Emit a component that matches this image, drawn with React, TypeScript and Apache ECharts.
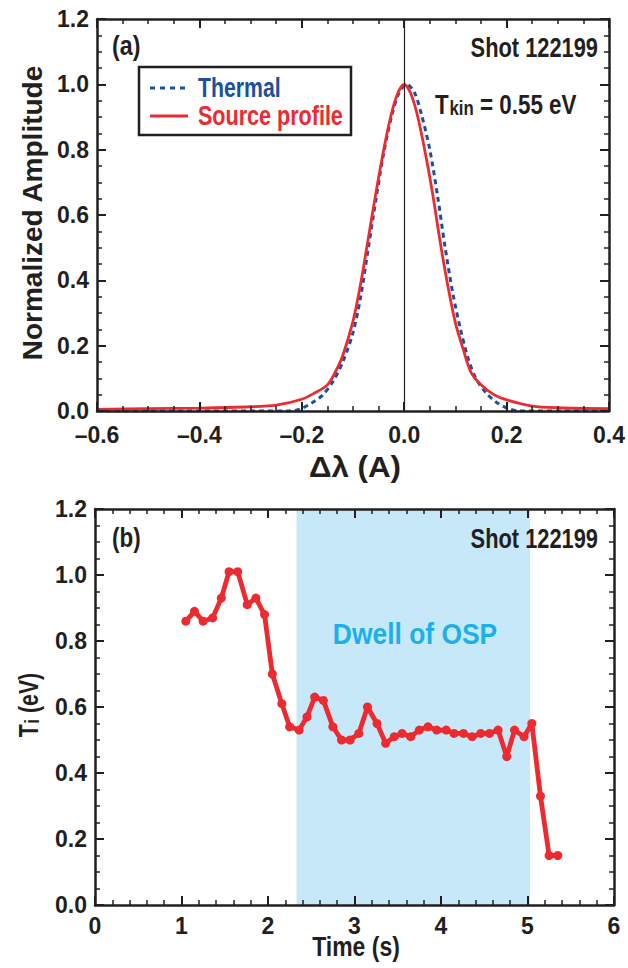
import React, { useEffect, useRef } from "react";
import * as echarts from "echarts";

const FONT = '"Liberation Sans", Arial, Helvetica, sans-serif';
const INK = "#231f20";
const RED = "#ec2a2f";
const BLUE = "#1b4f9f";
const CYAN = "#1cb0ea";
const SHADE = "#c6e8f8";

// Panel (a): line profiles
const thermalX = [-0.6, -0.4, -0.22, -0.2, -0.18, -0.16, -0.14, -0.12, -0.1, -0.085, -0.07, -0.055, -0.04, -0.025, -0.01, 0.005, 0.02, 0.035, 0.05, 0.065, 0.08, 0.095, 0.11, 0.125, 0.14, 0.16, 0.18, 0.2, 0.225, 0.3, 0.4];
const thermalY = [0, 0, 0, 0.008, 0.025, 0.048, 0.088, 0.15, 0.24, 0.35, 0.5, 0.65, 0.79, 0.9, 0.975, 1.0, 0.975, 0.9, 0.8, 0.66, 0.5, 0.36, 0.25, 0.16, 0.1, 0.055, 0.027, 0.01, 0, 0, 0];
const sourceX = [-0.6, -0.5, -0.4, -0.3, -0.25, -0.2, -0.175, -0.15, -0.135, -0.12, -0.1, -0.085, -0.07, -0.055, -0.04, -0.025, -0.012, 0.0, 0.012, 0.025, 0.04, 0.055, 0.07, 0.085, 0.1, 0.115, 0.13, 0.15, 0.175, 0.2, 0.25, 0.3, 0.4];
const sourceY = [0.005, 0.007, 0.009, 0.013, 0.018, 0.036, 0.055, 0.08, 0.118, 0.17, 0.275, 0.39, 0.53, 0.67, 0.8, 0.91, 0.975, 1.0, 0.975, 0.91, 0.8, 0.67, 0.52, 0.385, 0.27, 0.19, 0.12, 0.08, 0.05, 0.034, 0.015, 0.01, 0.007];
const centerLine = 0.0;

// Panel (b): ion temperature vs time
const times = [1.05, 1.15, 1.25, 1.36, 1.46, 1.55, 1.65, 1.76, 1.86, 1.96, 2.05, 2.16, 2.25, 2.36, 2.45, 2.54, 2.64, 2.75, 2.85, 2.95, 3.05, 3.15, 3.26, 3.36, 3.46, 3.55, 3.65, 3.75, 3.85, 3.95, 4.06, 4.15, 4.26, 4.36, 4.46, 4.56, 4.66, 4.76, 4.85, 4.96, 5.05, 5.15, 5.25, 5.35];
const ti = [0.86, 0.89, 0.86, 0.87, 0.93, 1.01, 1.01, 0.91, 0.93, 0.88, 0.7, 0.61, 0.54, 0.53, 0.57, 0.63, 0.62, 0.54, 0.5, 0.5, 0.52, 0.6, 0.55, 0.49, 0.51, 0.52, 0.51, 0.53, 0.54, 0.53, 0.53, 0.52, 0.52, 0.51, 0.52, 0.52, 0.53, 0.45, 0.53, 0.51, 0.55, 0.33, 0.15, 0.15];
const dwellStart = 2.33;
const dwellEnd = 5.03;

const shotLabel = "Shot 122199";

function fmtSigned(v: number) {
  const s = Math.abs(v).toFixed(1);
  return v < -1e-9 ? "\u2013" + s : s;
}

function valueAxis(gridIndex: number, position: string, min: number, max: number, interval: number, minorSplit: number, showLabel: boolean, formatter: (v: number) => string, margin: number) {
  return {
    type: "value",
    gridIndex,
    position,
    min,
    max,
    interval,
    z: 5,
    axisLine: { show: true, onZero: false, lineStyle: { color: INK, width: 2.5 } },
    axisTick: { show: true, inside: true, length: 9, lineStyle: { color: INK, width: 2 } },
    minorTick: { show: true, splitNumber: minorSplit, length: 5, lineStyle: { color: INK, width: 1.5 } },
    splitLine: { show: false },
    minorSplitLine: { show: false },
    axisLabel: {
      show: showLabel,
      fontFamily: FONT,
      fontWeight: "bold",
      fontSize: 23,
      color: INK,
      margin,
      formatter,
    },
  };
}

function label(text: string, x: number, y: number, size: number, color: string, align: string, scaleX = 1, rotation = 0) {
  return {
    type: "text",
    x,
    y,
    z: 100,
    scaleX,
    rotation,
    style: {
      text,
      fontFamily: FONT,
      fontWeight: "bold",
      fontSize: size,
      fill: color,
      align,
      textAlign: align,
      verticalAlign: "middle",
      textVerticalAlign: "middle",
    },
  };
}

export default function App() {
  const ref = useRef<HTMLDivElement>(null);
  useEffect(() => {
    document.body.style.margin = "0";
    if (!ref.current) return;
    const chart = echarts.init(ref.current, undefined, { renderer: "svg" });
    const fmt1 = (v: number) => Math.abs(v).toFixed(1);
    const fmtInt = (v: number) => String(Math.round(v));

    const subRich = (size: number, subSize: number) => ({
      m: { fontFamily: FONT, fontWeight: "bold", fontSize: size, lineHeight: size, verticalAlign: "top", fill: INK, color: INK },
      s: { fontFamily: FONT, fontWeight: "bold", fontSize: subSize, lineHeight: subSize, padding: [Math.round(size * 0.72), 0, 0, 1], verticalAlign: "bottom", fill: INK, color: INK },
    });

    const option: any = {
      animation: false,
      grid: [
        { left: 97, top: 19, width: 515, height: 392, containLabel: false },
        { left: 95, top: 509, width: 519, height: 396, containLabel: false },
      ],
      xAxis: [
        valueAxis(0, "bottom", -0.6, 0.4, 0.2, 4, true, fmtSigned, 12),
        valueAxis(0, "top", -0.6, 0.4, 0.2, 4, false, fmtSigned, 12),
        valueAxis(1, "bottom", 0, 6, 1, 5, true, fmtInt, 9),
        valueAxis(1, "top", 0, 6, 1, 5, false, fmtInt, 9),
      ],
      yAxis: [
        valueAxis(0, "left", 0, 1.2, 0.2, 4, true, fmt1, 8),
        valueAxis(0, "right", 0, 1.2, 0.2, 4, false, fmt1, 8),
        valueAxis(1, "left", 0, 1.2, 0.2, 4, true, fmt1, 8),
        valueAxis(1, "right", 0, 1.2, 0.2, 4, false, fmt1, 8),
      ],
      series: [
        {
          name: "Thermal",
          type: "line",
          xAxisIndex: 0,
          yAxisIndex: 0,
          data: thermalX.map((x, i) => [x, thermalY[i]]),
          showSymbol: false,
          symbol: "none",
          smooth: 0.3,
          lineStyle: { color: BLUE, width: 3, type: [5, 4] },
          z: 3,
          markLine: {
            silent: true,
            symbol: ["none", "none"],
            label: { show: false },
            lineStyle: { color: INK, width: 1.2, type: "solid" },
            data: [{ xAxis: centerLine }],
          },
        },
        {
          name: "Source profile",
          type: "line",
          xAxisIndex: 0,
          yAxisIndex: 0,
          data: sourceX.map((x, i) => [x, sourceY[i]]),
          showSymbol: false,
          symbol: "none",
          smooth: 0.3,
          lineStyle: { color: RED, width: 2.8 },
          z: 4,
        },
        {
          name: "Ti",
          type: "line",
          xAxisIndex: 2,
          yAxisIndex: 2,
          data: times.map((t, i) => [t, ti[i]]),
          symbol: "circle",
          symbolSize: 9,
          showSymbol: true,
          lineStyle: { color: RED, width: 4.8 },
          itemStyle: { color: RED },
          z: 4,
          markArea: {
            silent: true,
            itemStyle: { color: SHADE, opacity: 1 },
            data: [[{ xAxis: dwellStart }, { xAxis: dwellEnd }]],
          },
        },
      ],
      graphic: [
        // panel (a) annotations
        label("(a)", 112, 45, 28, INK, "left", 0.83),
        label(shotLabel, 598, 47, 28, INK, "right", 0.78),
        {
          type: "text", x: 435, y: 104, z: 100, scaleX: 0.8,
          style: { text: "{m|T}{s|kin}{m| = 0.55 eV}", rich: subRich(28, 21), align: "left", verticalAlign: "middle" },
        },
        // legend
        { type: "rect", z: 90, shape: { x: 139, y: 67, width: 212, height: 68 }, style: { fill: "#fff", stroke: INK, lineWidth: 2.5 } },
        { type: "line", z: 100, shape: { x1: 150, y1: 88, x2: 188, y2: 88 }, style: { stroke: BLUE, lineWidth: 3, lineDash: [5, 5] } },
        { type: "line", z: 100, shape: { x1: 150, y1: 116, x2: 188, y2: 116 }, style: { stroke: RED, lineWidth: 3 } },
        label("Thermal", 198, 87, 28, BLUE, "left", 0.76),
        label("Source profile", 198, 115, 28, RED, "left", 0.77),
        // axis titles
        label("Normalized Amplitude", 32, 213, 28, INK, "center", 1.0, Math.PI / 2),
        label("\u0394\u03bb (A)", 355, 467, 29, INK, "center", 1.08),
        // panel (b) annotations
        label("(b)", 112, 537, 28, INK, "left", 0.8),
        label(shotLabel, 598, 538, 28, INK, "right", 0.78),
        label("Dwell of OSP", 415, 633, 30, CYAN, "center", 0.88),
        label("Time (s)", 356, 946, 28, INK, "center", 0.82),
        {
          type: "text", x: 28, y: 705, z: 100, rotation: Math.PI / 2, scaleX: 0.76,
          style: { text: "{m|T}{s|i}{m| (eV)}", rich: subRich(28, 21), align: "center", verticalAlign: "middle" },
        },
      ],
    };
    chart.setOption(option);
    return () => chart.dispose();
  }, []);
  return <div ref={ref} style={{ width: 628, height: 968 }} />;
}
